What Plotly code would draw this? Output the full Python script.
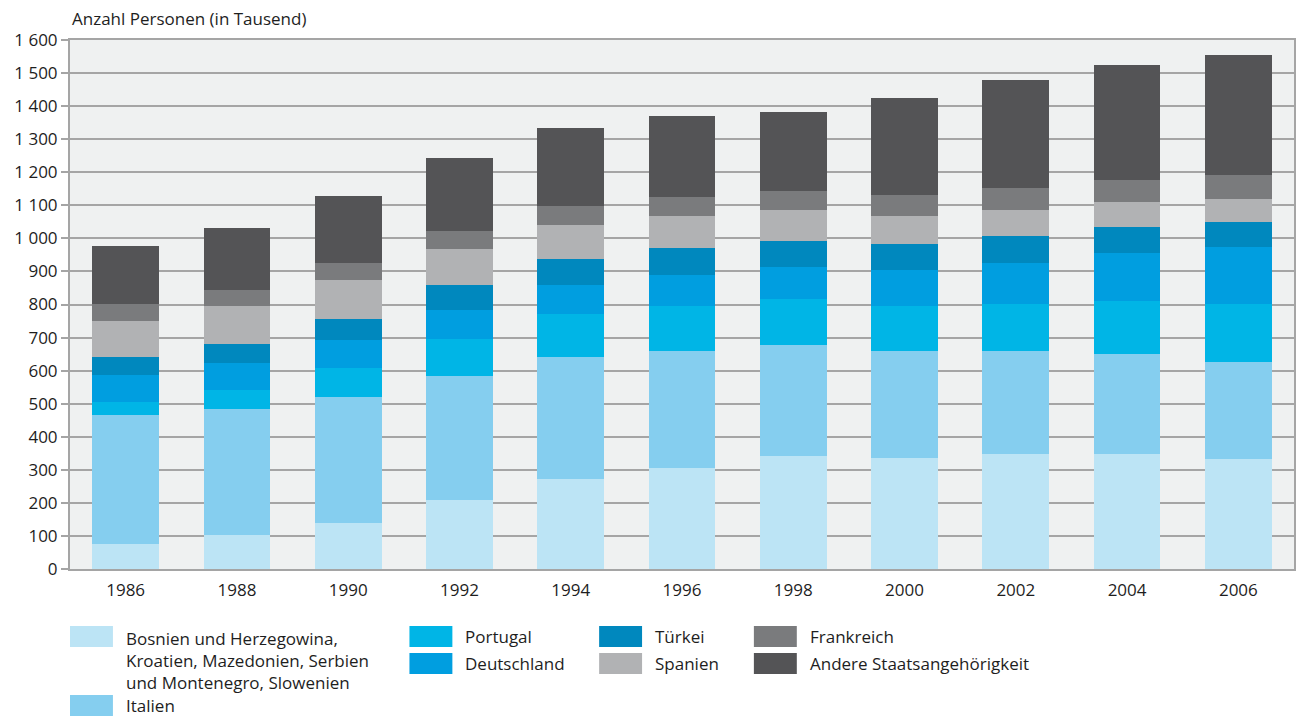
import plotly.graph_objects as go

years = ["1986", "1988", "1990", "1992", "1994", "1996", "1998", "2000", "2002", "2004", "2006"]

bosnien = [77, 102, 140, 210, 273, 306, 342, 336, 348, 348, 333]
italien = [390, 383, 381, 375, 368, 354, 336, 324, 312, 303, 293]
portugal = [39, 57, 88, 112, 130, 136, 139, 136, 142, 160, 176]
deutschland = [82, 82, 85, 87, 88, 94, 96, 108, 124, 145, 172]
tuerkei = [54, 57, 63, 76, 78, 82, 79, 79, 82, 78, 75]
spanien = [109, 115, 118, 109, 103, 96, 94, 84, 79, 76, 70]
frankreich = [51, 49, 52, 54, 58, 58, 57, 64, 66, 66, 72]
andere = [176, 187, 202, 221, 235, 245, 239, 293, 326, 348, 363]

series_names = [
    "Bosnien und Herzegowina,<br>Kroatien, Mazedonien, Serbien<br>und Montenegro, Slowenien",
    "Italien", "Portugal", "Deutschland", "Türkei", "Spanien", "Frankreich",
    "Andere Staatsangehörigkeit",
]
series_values = [bosnien, italien, portugal, deutschland, tuerkei, spanien, frankreich, andere]
colors = ["#bce4f5", "#85ceef", "#00b5e6", "#009ee0", "#0088be", "#b1b2b4", "#7a7b7d", "#545456"]

y_tickvals = list(range(0, 1601, 100))
y_ticktext = [f"{v:,}".replace(",", " ") for v in y_tickvals]

FONT = "Open Sans"
TXT = "#1e1e1e"
FS = 17

fig = go.Figure()
for name, vals, col in zip(series_names, series_values, colors):
    fig.add_trace(go.Bar(x=years, y=vals, name=name.replace("<br>", " "),
                         marker=dict(color=col, line=dict(width=0)),
                         showlegend=False))

W, H = 1303, 718
ml, mr, mt, mb = 70, 7, 40, 149
pw, ph = W - ml - mr, H - mt - mb

def px_x(x):
    return (x - ml) / pw

def px_y(y):
    return (H - mb - y) / ph

# custom legend layout (column, row) positions in pixels
legend_slots = [
    (70, 626), (70, 695), (410, 626), (410, 653),
    (600, 626), (600, 653), (755, 626), (755, 653),
]
shapes = []
annotations = []
for (lx, ly), name, col in zip(legend_slots, series_names, colors):
    shapes.append(dict(type="rect", xref="paper", yref="paper",
                       x0=px_x(lx), x1=px_x(lx + 43), y0=px_y(ly), y1=px_y(ly + 21),
                       fillcolor=col, line=dict(width=0), layer="above"))
    multi = "<br>" in name
    annotations.append(dict(xref="paper", yref="paper", x=px_x(lx + 54), y=px_y(ly + 10.5),
                            xanchor="left", yanchor="top" if multi else "middle",
                            yshift=12 if multi else 0, align="left",
                            text=name, showarrow=False,
                            font=dict(family=FONT, size=FS, color=TXT)))

annotations.append(dict(xref="paper", yref="paper", x=0, y=px_y(18), xanchor="left",
                        yanchor="middle", text="Anzahl Personen (in Tausend)",
                        showarrow=False, font=dict(family=FONT, size=FS, color=TXT)))

fig.update_layout(
    width=W, height=H,
    margin=dict(l=ml, r=mr, t=mt, b=mb),
    barmode="stack", bargap=0.4,
    paper_bgcolor="white", plot_bgcolor="#eff1f1",
    font=dict(family=FONT, size=FS, color=TXT),
    shapes=shapes, annotations=annotations,
    xaxis=dict(type="category", showgrid=False, showline=True, linecolor="#a5a5a5",
               linewidth=2, mirror=True, ticks="", tickfont=dict(size=FS), ticklabelstandoff=5),
    yaxis=dict(range=[0, 1600], tickvals=y_tickvals, ticktext=y_ticktext,
               showgrid=True, gridcolor="#a5a5a5", gridwidth=2,
               showline=True, linecolor="#a5a5a5", linewidth=2, mirror=True,
               ticks="outside", ticklen=7, tickcolor="#a5a5a5", tickwidth=2,
               zeroline=False, tickfont=dict(size=FS)),
)

fig.write_html("out.html", config={"displayModeBar": False},
               post_script="document.body.style.margin='0';document.body.style.overflow='hidden';")
